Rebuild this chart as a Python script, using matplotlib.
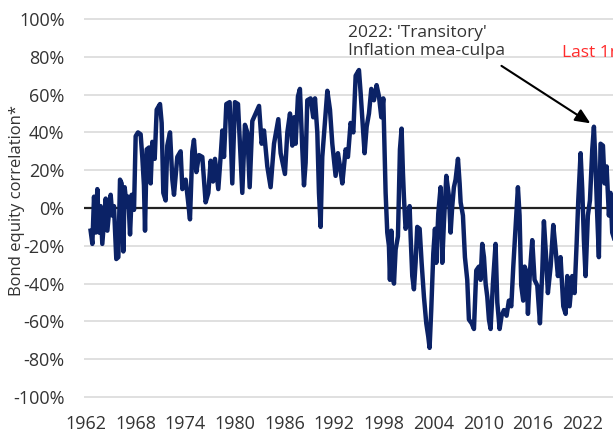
import matplotlib
matplotlib.use("Agg")
import matplotlib.pyplot as plt
import numpy as np

# rolling bond/equity correlation (year, %)
years = [
    1962.56, 1962.77, 1962.97, 1963.17, 1963.37, 1963.57, 1963.77, 1963.97, 1964.38, 1964.58,
    1964.98, 1965.18, 1965.38, 1965.66, 1965.91, 1966.11, 1966.31, 1966.51, 1966.67, 1966.91,
    1967.11, 1967.32, 1967.52, 1967.80, 1968.00, 1968.28, 1968.60, 1968.80, 1969.00, 1969.13,
    1969.33, 1969.61, 1969.81, 1970.01, 1970.30, 1970.54, 1970.94, 1971.14, 1971.34, 1971.62,
    1971.82, 1972.15, 1972.43, 1972.63, 1973.03, 1973.43, 1973.64, 1974.04, 1974.32, 1974.56,
    1974.84, 1975.04, 1975.33, 1975.65, 1976.05, 1976.45, 1976.78, 1977.06, 1977.34, 1977.58,
    1977.98, 1978.26, 1978.47, 1978.67, 1978.95, 1979.35, 1979.67, 1979.99, 1980.36, 1980.68,
    1980.88, 1981.20, 1981.49, 1981.77, 1982.09, 1982.49, 1982.90, 1983.22, 1983.50, 1983.90,
    1984.30, 1984.71, 1985.23, 1985.51, 1986.03, 1986.32, 1986.64, 1986.92,
    1987.12, 1987.32, 1987.60, 1987.84, 1988.13, 1988.33, 1988.53, 1988.73, 1989.13, 1989.45,
    1989.66, 1989.94, 1990.14, 1990.34, 1990.54, 1990.82, 1991.15, 1991.47, 1991.75, 1992.15,
    1992.43, 1992.68, 1992.96, 1993.36, 1993.64, 1993.96, 1994.29, 1994.57, 1994.97, 1995.17,
    1995.37, 1995.65, 1995.90, 1996.18, 1996.46, 1996.78, 1997.10, 1997.39, 1997.67, 1997.91,
    1998.19, 1998.39, 1998.59, 1998.71, 1998.88, 1999.04, 1999.20, 1999.40, 1999.68, 1999.92,
    2000.12, 2000.28, 2000.40, 2000.60, 2000.80, 2001.09, 2001.21, 2001.41, 2001.61, 2001.81,
    2002.01, 2002.30, 2002.54, 2002.82, 2003.10, 2003.34, 2003.50, 2003.70, 2003.95, 2004.15,
    2004.31, 2004.55, 2004.83, 2005.03, 2005.23, 2005.52, 2005.84, 2006.04, 2006.24, 2006.44,
    2006.64, 2006.93, 2007.13, 2007.25, 2007.53, 2007.77, 2008.05, 2008.25, 2008.58, 2008.86,
    2009.14, 2009.46, 2009.66, 2009.86, 2010.07, 2010.27, 2010.47, 2010.67, 2010.87, 2011.15,
    2011.47, 2011.68, 2011.96, 2012.20,
    2012.48, 2012.80, 2013.08, 2013.37, 2013.61, 2013.89, 2014.17, 2014.37, 2014.57, 2014.81,
    2014.98, 2015.22, 2015.38, 2015.62, 2015.90, 2016.18, 2016.51, 2016.83, 2017.11, 2017.31,
    2017.59, 2017.79, 2018.12, 2018.44, 2018.72, 2019.00, 2019.32, 2019.65, 2019.93, 2020.13,
    2020.41, 2020.73, 2021.01, 2021.26, 2021.46, 2021.74, 2021.94, 2022.14, 2022.34, 2022.62,
    2022.87, 2023.15, 2023.35, 2023.55, 2023.75, 2023.95, 2024.15, 2024.44, 2024.64, 2024.88,
    2025.16, 2025.36, 2025.56, 2025.85, 2026.10,
]
corr = [
    -12, -19, 6, -13, 10, -13, 1, -19, 5, -12,
    7, -4, 1, -27, -26, 15, 13, -23, 11, 1,
    6, -14, 7, -1, 38, 40, 39, 27, 12, -12,
    31, 32, 13, 35, 26, 52, 55, 45, 8, 4,
    33, 40, 15, 7, 27, 30, 10, 15, 4, -6,
    30, 36, 19, 28, 27, 3, 8, 25, 14, 26,
    10, 27, 41, 27, 55, 56, 13, 56, 55, 26,
    8, 44, 40, 11, 46, 50, 54, 34, 41, 22,
    11, 34, 47, 29, 18, 40, 50, 33,
    48, 34, 59, 63, 31, 12, 24, 57, 58, 48,
    58, 40, 8, -10, 27, 43, 62, 52, 34, 17,
    29, 22, 13, 31, 27, 45, 40, 70, 73, 61,
    48, 29, 43, 50, 63, 57, 65, 59, 48, 58,
    8, -13, -20, -38, -12, -34, -40, -22, -15, 31,
    42, 19, 6, -11, -8, 1, -15, -36, -43, -29,
    -10, -11, -29, -47, -61, -68, -74, -54, -24, -11,
    -29, -3, 11, -29, -8, 17, 6, -13, 1, 11,
    15, 26, 13, 3, -4, -26, -38, -59, -61, -64,
    -33, -31, -38, -19, -26, -40, -47, -59, -64, -40,
    -19, -50, -64, -57,
    -54, -57, -49, -52, -31, -10, 11, -4, -41, -49,
    -31, -34, -56, -34, -17, -38, -41, -61, -34, -7,
    -27, -45, -31, -9, -22, -36, -26, -52, -56, -36,
    -52, -36, -45, -19, 4, 29, 10, -17, -36, -4,
    4, 31, 43, 22, -4, -26, 34, 33, 13, 22,
    -4, 8, -13, -17, 4,
]

xticks = [1962, 1968, 1974, 1980, 1986, 1992, 1998, 2004, 2010, 2016, 2022]
yticks = [-100, -80, -60, -40, -20, 0, 20, 40, 60, 80, 100]

plt.rcParams['font.family'] = ['Open Sans', 'DejaVu Sans']
TXT = '#333333'

fig = plt.figure(figsize=(6.13, 4.34), dpi=100)
# axes run past the right edge, the source image is cropped there
ax = fig.add_axes([84 / 613, 1 - 400.8 / 434, 536 / 613, 385.6 / 434])

ax.plot(years, corr, color='#0b2266', linewidth=3.2, solid_joinstyle='round', zorder=3)
ax.axhline(0, color='#222222', linewidth=1.6, zorder=2)

ax.set_xlim(1961.76, 2026.5)
ax.set_ylim(-102, 102)
ax.set_xticks(xticks)
ax.set_yticks(yticks)
ax.set_yticklabels([f'{v}%' for v in yticks])
ax.tick_params(length=0, labelsize=13, colors=TXT)
ax.tick_params(axis='y', pad=14)
ax.tick_params(axis='x', pad=10)
ax.grid(axis='y', color='#dddddd', linewidth=1.3, zorder=0)
for s in ax.spines.values():
    s.set_visible(False)

fig.text(17 / 613, 1 - 201 / 434, 'Bond equity correlation*', rotation=90,
         ha='center', va='center', fontsize=12, color=TXT)

ax.text(1993.7, 88, "2022: 'Transitory'\nInflation mea-culpa", fontsize=12.5,
        color=TXT, ha='left', va='center', linespacing=1.15)
ax.annotate('', xy=(2023.2, 44), xytext=(2011.9, 76),
            arrowprops=dict(arrowstyle='-|>,head_length=0.9,head_width=0.4',
                            color='black', lw=1.5))
ax.text(2019.5, 82, 'Last 1m', fontsize=12.5, color='#ff2b2b', ha='left', va='center')

plt.savefig('out.png', dpi=100)
